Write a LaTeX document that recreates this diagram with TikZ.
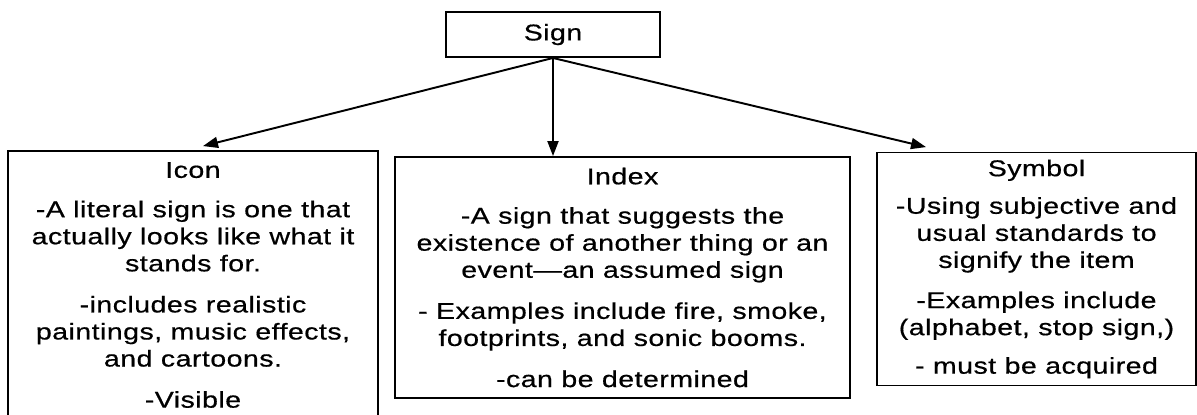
\documentclass[tikz,border=0pt]{standalone}
\usepackage{fontspec}
\setmainfont{Liberation Sans}[FakeStretch=1.25,LetterSpace=2,FakeBold=0.6]
\usetikzlibrary{arrows.meta}
\begin{document}
\begin{tikzpicture}[x=0.02cm,y=-0.02cm,
    box/.style={draw,line width=1.1pt,align=center,inner sep=0pt,font=\fontsize{13}{15.4}\selectfont},
    link/.style={line width=1.1pt,-{Triangle[length=0.3cm,width=0.22cm]}}]
    \useasboundingbox (0,0) rectangle (1197,414);
    \node[box,minimum width=4.28cm,minimum height=0.9cm] (sign) at (553,34.5) {Sign};
    \node[box,minimum width=7.4cm,minimum height=5.36cm] (icon) at (193,285) {Icon\\[7pt] -A literal sign is one that\\ actually looks like what it\\ stands for.\\[8pt] -includes realistic\\ paintings, music effects,\\ and cartoons.\\[8pt] -Visible};
    \node[box,minimum width=9.1cm,minimum height=4.82cm] (index) at (622.5,277.5) {Index\\[7pt] -A sign that suggests the\\ existence of another thing or an\\ event—an assumed sign\\[8pt] - Examples include fire, smoke,\\ footprints, and sonic booms.\\[8pt] -can be determined};
    \node[box,minimum width=6.38cm,minimum height=4.66cm] (symbol) at (1036.5,269) {Symbol\\[6pt] -Using subjective and\\ usual standards to\\ signify the item\\[7.5pt] -Examples include\\ (alphabet, stop sign,)\\[6.5pt] - must be acquired};
    \draw[link] (sign.south) -- ([xshift=0.2cm,yshift=0.08cm]icon.north);
    \draw[link] (sign.south) -- (sign.south |- index.north);
    \draw[link] (sign.south) -- ([xshift=-2.21cm,yshift=0.09cm]symbol.north);
\end{tikzpicture}
\end{document}
